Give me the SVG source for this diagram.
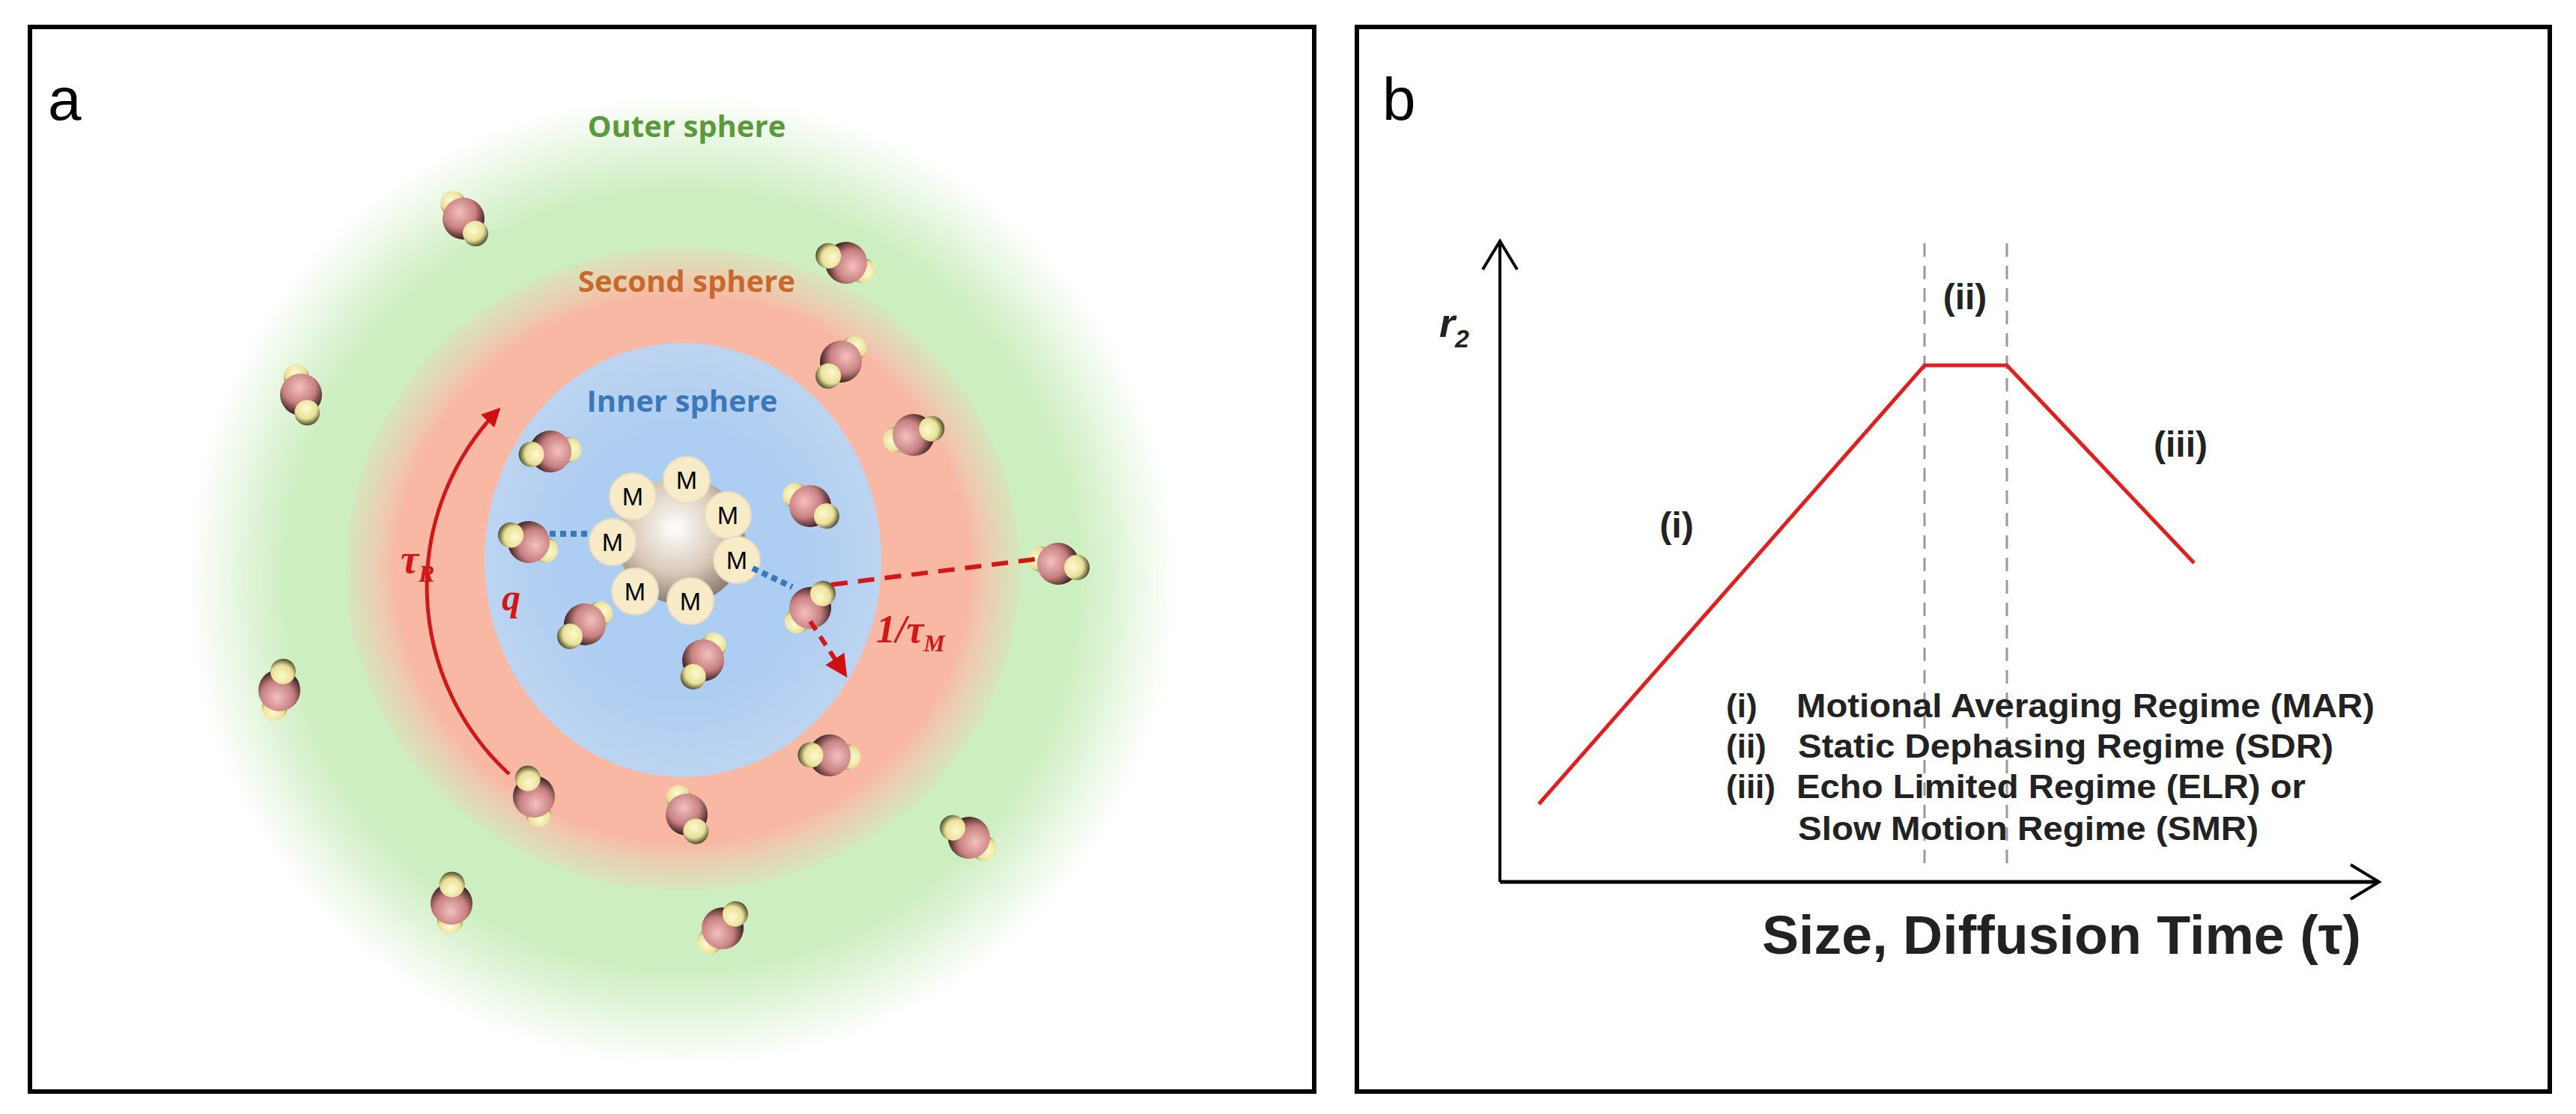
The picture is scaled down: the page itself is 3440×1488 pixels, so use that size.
<svg xmlns="http://www.w3.org/2000/svg" width="3440" height="1488" viewBox="0 0 3440 1488">
<defs>
<radialGradient id="gOut" cx="0.5" cy="0.5" r="0.5"><stop offset="0.8" stop-color="#cdeec0"/><stop offset="1" stop-color="#cdeec0" stop-opacity="0"/></radialGradient>
<radialGradient id="gSec" cx="0.5" cy="0.5" r="0.5"><stop offset="0.85" stop-color="#f8b8a4"/><stop offset="1" stop-color="#f8c8b0" stop-opacity="0.2"/></radialGradient>
<radialGradient id="gIn" cx="0.5" cy="0.5" r="0.5"><stop offset="0.6" stop-color="#aecdf2"/><stop offset="1" stop-color="#bcd4f0"/></radialGradient>
<radialGradient id="gNp" cx="0.45" cy="0.4" r="0.6"><stop offset="0" stop-color="#ffffff"/><stop offset="0.6" stop-color="#d8c8b8"/><stop offset="1" stop-color="#8a7e70"/></radialGradient>
<radialGradient id="gO" cx="0.4" cy="0.35" r="0.7"><stop offset="0" stop-color="#f4c0c0"/><stop offset="0.55" stop-color="#c88080"/><stop offset="1" stop-color="#1a0c0c"/></radialGradient>
<radialGradient id="gH" cx="0.4" cy="0.35" r="0.7"><stop offset="0" stop-color="#fffad0"/><stop offset="0.6" stop-color="#e8e098"/><stop offset="1" stop-color="#3a3a20"/></radialGradient>
<marker id="ar" viewBox="0 0 10 10" refX="8" refY="5" markerWidth="5" markerHeight="5" orient="auto"><path d="M0,0 L10,5 L0,10 z" fill="#d01010"/></marker>
<g id="w"><circle cx="-14" cy="-20" r="17" fill="url(#gH)"/><circle cx="0" cy="0" r="28" fill="url(#gO)"/><circle cx="16" cy="20" r="17" fill="url(#gH)"/></g>
</defs>
<style>
.lab{font-family:"Open Sans","Liberation Sans",sans-serif;font-weight:bold;font-size:40px;text-anchor:middle}
.m{font-family:"Liberation Sans",sans-serif;font-size:34px;text-anchor:middle;dominant-baseline:central}
.mc{fill:#f8ecc8;stroke:#e8dcc0;stroke-width:2}
.b{font-family:"Liberation Sans",Arial,sans-serif;font-weight:bold;fill:#222}
.gr{font-family:"Liberation Serif",serif;font-style:italic;font-weight:bold;fill:#d01818}
</style>
<rect width="3440" height="1488" fill="#fff"/>
<rect id="panelA" x="40" y="36" width="1715" height="1422" fill="none" stroke="#000" stroke-width="6"/>
<rect id="panelB" x="1812" y="36" width="1593" height="1422" fill="none" stroke="#000" stroke-width="6"/>
<text x="64" y="160" font-family="Liberation Sans,sans-serif" font-size="80">a</text>
<text x="1846" y="160" font-family="Liberation Sans,sans-serif" font-size="80">b</text>
<g id="outer"><ellipse cx="910" cy="775" rx="660" ry="650" fill="url(#gOut)"/><text class="lab" x="917" y="183" fill="#5a9a3a">Outer sphere</text></g>
<g id="second"><ellipse cx="912" cy="760" rx="450" ry="430" fill="url(#gSec)"/><text class="lab" x="917" y="390" fill="#c8682a">Second sphere</text></g>
<g id="inner"><ellipse cx="912" cy="748" rx="265" ry="290" fill="url(#gIn)"/><text class="lab" x="911" y="550" fill="#3a78b8">Inner sphere</text></g>
<g id="nanoparticle">
<circle cx="910" cy="722" r="85" fill="url(#gNp)"/>
<g id="Ms">
<circle class="mc" cx="845" cy="663" r="31"/><text class="m" x="845" y="663">M</text>
<circle class="mc" cx="917" cy="641" r="31"/><text class="m" x="917" y="641">M</text>
<circle class="mc" cx="972" cy="688" r="31"/><text class="m" x="972" y="688">M</text>
<circle class="mc" cx="818" cy="724" r="31"/><text class="m" x="818" y="724">M</text>
<circle class="mc" cx="984" cy="748" r="31"/><text class="m" x="984" y="748">M</text>
<circle class="mc" cx="848" cy="790" r="31"/><text class="m" x="848" y="790">M</text>
<circle class="mc" cx="922" cy="803" r="31"/><text class="m" x="922" y="803">M</text>
</g></g>
<g id="waters">
<use href="#w" transform="translate(619,292)"/>
<use href="#w" transform="translate(1130,351) rotate(150)"/>
<use href="#w" transform="translate(402,527) rotate(20)"/>
<use href="#w" transform="translate(1123,483) rotate(80)"/>
<use href="#w" transform="translate(1220,581) rotate(-70)"/>
<use href="#w" transform="translate(735,603) rotate(120)"/>
<use href="#w" transform="translate(706,724) rotate(150)"/>
<use href="#w" transform="translate(1082,676) rotate(-20)"/>
<use href="#w" transform="translate(1413,753) rotate(-40)"/>
<use href="#w" transform="translate(1082,812) rotate(-100)"/>
<use href="#w" transform="translate(781,834) rotate(90)"/>
<use href="#w" transform="translate(939,882) rotate(70)"/>
<use href="#w" transform="translate(373,922) rotate(230)"/>
<use href="#w" transform="translate(713,1064) rotate(200)"/>
<use href="#w" transform="translate(1108,1009) rotate(130)"/>
<use href="#w" transform="translate(917,1088) rotate(10)"/>
<use href="#w" transform="translate(1294,1119) rotate(160)"/>
<use href="#w" transform="translate(603,1207) rotate(220)"/>
<use href="#w" transform="translate(965,1240) rotate(-100)"/>
</g>
<g id="connectors">
<path d="M734,713 L785,713" stroke="#3a78b8" stroke-width="8" stroke-dasharray="8,6" fill="none"/>
<path d="M1005,759 L1058,784" stroke="#3a78b8" stroke-width="8" stroke-dasharray="8,6" fill="none"/>
<path d="M1110,781 L1390,746" stroke="#d01818" stroke-width="6" stroke-dasharray="22,14" fill="none"/>
<path d="M1082,830 L1128,900" stroke="#d01818" stroke-width="6" stroke-dasharray="14,10" fill="none" marker-end="url(#ar)"/>
<path d="M680,1034 A340,340 0 0 1 665,548" stroke="#d01818" stroke-width="5" fill="none" marker-end="url(#ar)"/>
</g>
<text class="gr" x="535" y="765" font-size="54">τ<tspan font-size="32" dy="12">R</tspan></text>
<text class="gr" x="670" y="815" font-size="50">q</text>
<text class="gr" x="1170" y="858" font-size="52">1/τ<tspan font-size="32" dy="12">M</tspan></text>
<g id="chart">
<path d="M2003,1178 L2003,325" stroke="#000" stroke-width="4" fill="none"/>
<path d="M1980,360 L2003,322 L2026,360" stroke="#000" stroke-width="4" fill="none"/>
<path d="M2003,1178 L3175,1178" stroke="#000" stroke-width="5" fill="none"/>
<path d="M3139,1155 L3177,1178 L3139,1201" stroke="#000" stroke-width="4" fill="none"/>
<path d="M2570,325 L2570,1160 M2680,325 L2680,1160" stroke="#999" stroke-width="3" stroke-dasharray="18,12" fill="none"/>
<path d="M2055,1074 L2570,488 L2680,488 L2930,752" stroke="#e02020" stroke-width="5" fill="none"/>
<text class="b" x="1922" y="450" font-size="54" font-style="italic">r<tspan font-size="34" dy="14">2</tspan></text>
<text class="b" x="2624" y="413" font-size="48" text-anchor="middle">(ii)</text>
<text class="b" x="2239" y="718" font-size="48" text-anchor="middle">(i)</text>
<text class="b" x="2912" y="610" font-size="48" text-anchor="middle">(iii)</text>
<g class="b" font-size="44">
<text x="2305" y="958">(i)</text><text x="2399" y="958" textLength="772" lengthAdjust="spacingAndGlyphs">Motional Averaging Regime (MAR)</text>
<text x="2305" y="1012">(ii)</text><text x="2401" y="1012" textLength="715" lengthAdjust="spacingAndGlyphs">Static Dephasing Regime (SDR)</text>
<text x="2305" y="1066">(iii)</text><text x="2399" y="1066" textLength="680" lengthAdjust="spacingAndGlyphs">Echo Limited Regime (ELR) or</text>
<text x="2401" y="1122" textLength="615" lengthAdjust="spacingAndGlyphs">Slow Motion Regime (SMR)</text>
</g>
<text class="b" x="2353" y="1274" font-size="72" textLength="800" lengthAdjust="spacingAndGlyphs">Size, Diffusion Time (τ)</text>
</g>
</svg>
